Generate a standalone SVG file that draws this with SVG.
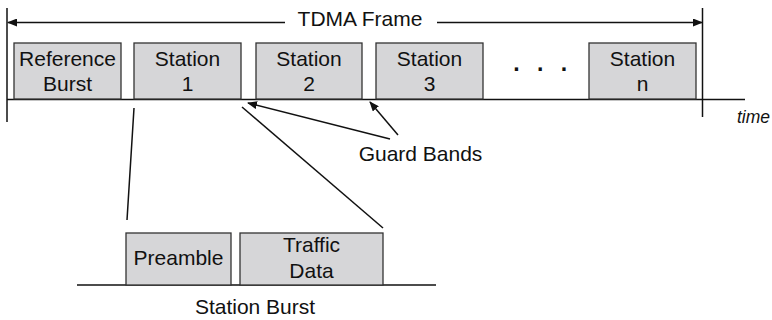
<svg xmlns="http://www.w3.org/2000/svg" width="772" height="320" viewBox="0 0 772 320">
<style>
.box{fill:#d6d6d8;stroke:#333;stroke-width:1.3}
.ln{stroke:#111;stroke-width:1.5;fill:none}
text{font-family:"Liberation Sans",Arial,sans-serif;font-size:21px;fill:#111;text-anchor:middle}
</style>
<defs>
<marker id="ah" markerWidth="10" markerHeight="8" refX="9" refY="4" orient="auto" markerUnits="userSpaceOnUse">
<path d="M0,0 L10,4 L0,8 Z" fill="#111"/>
</marker>
</defs>
<rect width="772" height="320" fill="#fff"/>
<g id="connectors">
<line class="ln" x1="7" y1="8" x2="7" y2="122"/>
<line class="ln" x1="702.5" y1="8" x2="702.5" y2="117"/>
<line class="ln" x1="285" y1="22.5" x2="8" y2="22.5" marker-end="url(#ah)"/>
<line class="ln" x1="437" y1="22.5" x2="702" y2="22.5" marker-end="url(#ah)"/>
<line class="ln" x1="7" y1="99.5" x2="745" y2="99.5"/>
<line class="ln" x1="390" y1="139" x2="248" y2="103" marker-end="url(#ah)"/>
<line class="ln" x1="398" y1="135" x2="370" y2="102" marker-end="url(#ah)"/>
<line class="ln" x1="134" y1="108" x2="127" y2="220"/>
<line class="ln" x1="242" y1="107" x2="383" y2="228"/>
<line class="ln" x1="77" y1="285" x2="436" y2="285"/>
</g>
<g id="frame-label"><text x="360" y="26">TDMA Frame</text></g>
<g id="ref"><rect class="box" x="14" y="43" width="107" height="56"/><text x="67.5" y="66">Reference</text><text x="67.5" y="91">Burst</text></g>
<g id="st1"><rect class="box" x="134" y="43" width="107" height="56"/><text x="187.5" y="66">Station</text><text x="187.5" y="91">1</text></g>
<g id="st2"><rect class="box" x="256" y="43" width="106" height="56"/><text x="309" y="66">Station</text><text x="309" y="91">2</text></g>
<g id="st3"><rect class="box" x="376" y="43" width="107" height="56"/><text x="429.5" y="66">Station</text><text x="429.5" y="91">3</text></g>
<g id="dots"><text x="543" y="71" style="font-weight:bold;font-size:23px;letter-spacing:5.5px" text-anchor="middle">. . .</text></g>
<g id="stn"><rect class="box" x="589" y="43" width="107" height="56"/><text x="642.5" y="66">Station</text><text x="642.5" y="91">n</text></g>
<g id="time"><text x="753.5" y="123" style="font-size:17.5px;font-style:italic">time</text></g>
<g id="guard"><text x="420.5" y="161">Guard Bands</text></g>
<g id="preamble"><rect class="box" x="126" y="233" width="105" height="52"/><text x="178.5" y="265">Preamble</text></g>
<g id="traffic"><rect class="box" x="240" y="233" width="143" height="52"/><text x="311.5" y="252">Traffic</text><text x="311.5" y="278">Data</text></g>
<g id="burst-label"><text x="255" y="314">Station Burst</text></g>
</svg>
